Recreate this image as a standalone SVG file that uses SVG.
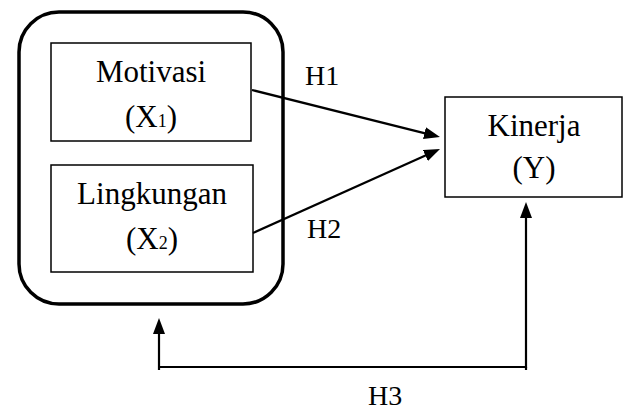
<svg xmlns="http://www.w3.org/2000/svg" width="624" height="412" viewBox="0 0 624 412">
<style>
.box{fill:#fff;stroke:#000;stroke-width:1.5}
.t{font-family:"Liberation Serif","Times New Roman",serif;font-size:31px;fill:#000;text-anchor:middle}
.sub{font-size:18px}
.lbl{font-family:"Liberation Serif","Times New Roman",serif;font-size:28px;fill:#000}
.c{fill:none;stroke:#000;stroke-width:2.2}
</style>
<defs>
<marker id="ah" viewBox="0 0 16 12" refX="8" refY="6" markerWidth="16" markerHeight="12" markerUnits="userSpaceOnUse" orient="auto">
<path d="M0,0 L16,6 L0,12 Z" fill="#000"/>
</marker>
</defs>
<rect width="624" height="412" fill="#fff"/>
<g id="group">
<rect x="19" y="12" width="264" height="292" rx="40" ry="40" fill="none" stroke="#000" stroke-width="3.5"/>
</g>
<g id="motivasi">
<rect class="box" x="51" y="43" width="200" height="98"/>
<text class="t" x="151" y="82">Motivasi</text>
<text class="t" x="151" y="127">(X<tspan class="sub">1</tspan>)</text>
</g>
<g id="lingkungan">
<rect class="box" x="51" y="165" width="202" height="107"/>
<text class="t" x="152" y="204">Lingkungan</text>
<text class="t" x="152" y="249">(X<tspan class="sub">2</tspan>)</text>
</g>
<g id="kinerja">
<rect class="box" x="445" y="97" width="177" height="100"/>
<text class="t" x="534" y="136">Kinerja</text>
<text class="t" x="534" y="178">(Y)</text>
</g>
<g id="connectors">
<line class="c" x1="252" y1="90" x2="432.2" y2="135.1" marker-end="url(#ah)"/>
<line class="c" x1="253" y1="233" x2="432.7" y2="152.3" marker-end="url(#ah)"/>
<polyline class="c" points="159,370 159,326" marker-end="url(#ah)"/>
<polyline class="c" points="159,367 526,367 526,210" marker-end="url(#ah)"/>
<line class="c" x1="526" y1="367" x2="526" y2="370"/>
<text class="lbl" x="368" y="405">H3</text>
<text class="lbl" x="305" y="85">H1</text>
<text class="lbl" x="307" y="238">H2</text>
</g>
</svg>
